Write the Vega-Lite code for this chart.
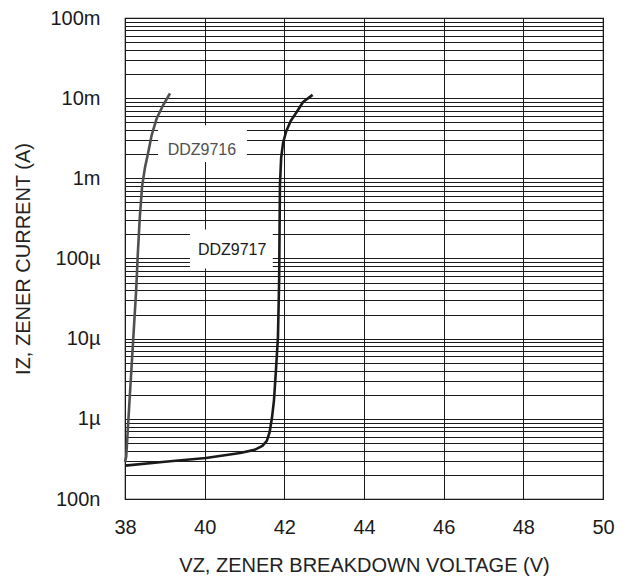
{
  "$schema": "https://vega.github.io/schema/vega-lite/v6.json",
  "width": 478,
  "height": 481,
  "padding": {"left": 13, "top": 8, "right": 10, "bottom": 5},
  "background": "white",
  "config": {
    "font": "Liberation Sans",
    "view": {"stroke": "#111", "strokeWidth": 1.2},
    "axis": {
      "grid": true,
      "gridColor": "#1a1a1a",
      "gridOpacity": 1,
      "gridWidth": 1,
      "domain": false,
      "ticks": false,
      "tickSize": 0,
      "labelFont": "Liberation Sans",
      "labelFontSize": 20,
      "labelColor": "#1a1a1a",
      "titleFont": "Liberation Sans",
      "titleFontSize": 20,
      "titleFontWeight": "normal",
      "titleColor": "#222",
      "labelFlush": false,
      "labelOverlap": false
    }
  },
  "datasets": {
    "curves": [
      {"series": "DDZ9716", "i": 1, "V": 38.0, "I": 2.9e-7},
      {"series": "DDZ9716", "i": 2, "V": 38.03, "I": 3.34e-7},
      {"series": "DDZ9716", "i": 3, "V": 38.06, "I": 5.94e-7},
      {"series": "DDZ9716", "i": 4, "V": 38.11, "I": 1.58e-6},
      {"series": "DDZ9716", "i": 5, "V": 38.21, "I": 1.05e-5},
      {"series": "DDZ9716", "i": 6, "V": 38.28, "I": 4.0e-5},
      {"series": "DDZ9716", "i": 7, "V": 38.32, "I": 1.1e-4},
      {"series": "DDZ9716", "i": 8, "V": 38.37, "I": 3.2e-4},
      {"series": "DDZ9716", "i": 9, "V": 38.43, "I": 8.0e-4},
      {"series": "DDZ9716", "i": 10, "V": 38.5, "I": 1.35e-3},
      {"series": "DDZ9716", "i": 11, "V": 38.585, "I": 2.13e-3},
      {"series": "DDZ9716", "i": 12, "V": 38.67, "I": 3.47e-3},
      {"series": "DDZ9716", "i": 13, "V": 38.8, "I": 5.66e-3},
      {"series": "DDZ9716", "i": 14, "V": 38.96, "I": 8.22e-3},
      {"series": "DDZ9716", "i": 15, "V": 39.13, "I": 1.15e-2},
      {"series": "DDZ9717", "i": 1, "V": 38.0, "I": 2.61e-7},
      {"series": "DDZ9717", "i": 2, "V": 39.0, "I": 2.92e-7},
      {"series": "DDZ9717", "i": 3, "V": 40.03, "I": 3.25e-7},
      {"series": "DDZ9717", "i": 4, "V": 40.89, "I": 3.75e-7},
      {"series": "DDZ9717", "i": 5, "V": 41.25, "I": 4.1e-7},
      {"series": "DDZ9717", "i": 6, "V": 41.45, "I": 4.6e-7},
      {"series": "DDZ9717", "i": 7, "V": 41.56, "I": 5.3e-7},
      {"series": "DDZ9717", "i": 8, "V": 41.63, "I": 6.8e-7},
      {"series": "DDZ9717", "i": 9, "V": 41.69, "I": 1.03e-6},
      {"series": "DDZ9717", "i": 10, "V": 41.74, "I": 1.7e-6},
      {"series": "DDZ9717", "i": 11, "V": 41.79, "I": 4.07e-6},
      {"series": "DDZ9717", "i": 12, "V": 41.84, "I": 1.05e-5},
      {"series": "DDZ9717", "i": 13, "V": 41.87, "I": 5.4e-5},
      {"series": "DDZ9717", "i": 14, "V": 41.88, "I": 2.27e-4},
      {"series": "DDZ9717", "i": 15, "V": 41.89, "I": 8.26e-4},
      {"series": "DDZ9717", "i": 16, "V": 41.92, "I": 1.8e-3},
      {"series": "DDZ9717", "i": 17, "V": 41.97, "I": 2.8e-3},
      {"series": "DDZ9717", "i": 18, "V": 42.05, "I": 3.9e-3},
      {"series": "DDZ9717", "i": 19, "V": 42.16, "I": 5.2e-3},
      {"series": "DDZ9717", "i": 20, "V": 42.31, "I": 6.73e-3},
      {"series": "DDZ9717", "i": 21, "V": 42.47, "I": 8.95e-3},
      {"series": "DDZ9717", "i": 22, "V": 42.71, "I": 1.1e-2}
    ],
    "boxes": [
      {"series": "DDZ9716", "V": 38.83, "V2": 41.06, "I": 1.6e-3, "I2": 4.6e-3},
      {"series": "DDZ9717", "V": 39.63, "V2": 41.71, "I": 7.5e-5, "I2": 2.3e-4}
    ],
    "labels": [
      {"series": "DDZ9716", "V": 39.93, "I": 2.26e-3},
      {"series": "DDZ9717", "V": 40.69, "I": 1.28e-4}
    ]
  },
  "encoding": {
    "x": {
      "field": "V",
      "type": "quantitative",
      "scale": {"domain": [38, 50], "nice": false, "zero": false},
      "axis": {
        "values": [38, 40, 42, 44, 46, 48, 50],
        "format": "d",
        "labelPadding": 18,
        "titlePadding": 18,
        "title": "VZ, ZENER BREAKDOWN VOLTAGE (V)"
      }
    },
    "y": {
      "field": "I",
      "type": "quantitative",
      "scale": {"type": "log", "domain": [1e-7, 0.1], "nice": false},
      "axis": {
        "values": [1e-7, 2e-7, 3e-7, 4e-7, 5e-7, 6e-7, 7e-7, 8e-7, 9e-7,
                   1e-6, 2e-6, 3e-6, 4e-6, 5e-6, 6e-6, 7e-6, 8e-6, 9e-6,
                   1e-5, 2e-5, 3e-5, 4e-5, 5e-5, 6e-5, 7e-5, 8e-5, 9e-5,
                   1e-4, 2e-4, 3e-4, 4e-4, 5e-4, 6e-4, 7e-4, 8e-4, 9e-4,
                   1e-3, 2e-3, 3e-3, 4e-3, 5e-3, 6e-3, 7e-3, 8e-3, 9e-3,
                   1e-2, 2e-2, 3e-2, 4e-2, 5e-2, 6e-2, 7e-2, 8e-2, 9e-2, 1e-1],
        "labelExpr": "abs(log(datum.value)/LN10 - round(log(datum.value)/LN10)) < 0.001 ? format(datum.value, '~s') : ''",
        "labelPadding": 25,
        "labelBaseline": "middle",
        "titlePadding": 16,
        "title": "IZ, ZENER CURRENT (A)"
      }
    }
  },
  "layer": [
    {
      "data": {"name": "boxes"},
      "mark": {"type": "rect", "fill": "white", "stroke": null},
      "encoding": {
        "x2": {"field": "V2"},
        "y2": {"field": "I2"}
      }
    },
    {
      "data": {"name": "curves"},
      "mark": {"type": "line", "strokeWidth": 2.6, "interpolate": "linear", "strokeJoin": "round"},
      "encoding": {
        "color": {
          "field": "series",
          "type": "nominal",
          "scale": {"domain": ["DDZ9716", "DDZ9717"], "range": ["#505050", "#1a1a1a"]},
          "legend": null
        },
        "order": {"field": "i", "type": "quantitative"}
      }
    },
    {
      "data": {"name": "labels"},
      "mark": {"type": "text", "fontSize": 16, "font": "Liberation Sans", "align": "center", "baseline": "middle"},
      "encoding": {
        "text": {"field": "series"},
        "color": {
          "field": "series",
          "type": "nominal",
          "scale": {"domain": ["DDZ9716", "DDZ9717"], "range": ["#505050", "#1a1a1a"]},
          "legend": null
        }
      }
    }
  ]
}
